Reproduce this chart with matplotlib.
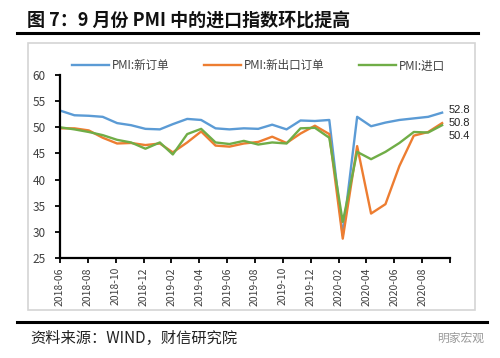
import matplotlib
matplotlib.use('Agg')
import matplotlib.pyplot as plt
import matplotlib.transforms as mtransforms
from matplotlib.lines import Line2D
from matplotlib.patches import Rectangle
import pandas as pd

plt.rcParams['font.family'] = ['Noto Sans CJK SC', 'DejaVu Sans']

# ---------------- data ----------------
months = pd.date_range('2018-06-30', periods=28, freq='ME')
new_orders = [53.2, 52.3, 52.2, 52.0, 50.8, 50.4, 49.7, 49.6, 50.6, 51.6, 51.4, 49.8, 49.6, 49.8,
              49.7, 50.5, 49.6, 51.3, 51.2, 51.4, 29.3, 52.0, 50.2, 50.9, 51.4, 51.7, 52.0, 52.8]
export_orders = [49.8, 49.8, 49.4, 48.0, 46.9, 47.0, 46.6, 46.9, 45.2, 47.1, 49.2, 46.5, 46.3, 46.9,
                 47.2, 48.2, 47.0, 48.8, 50.3, 48.7, 28.7, 46.4, 33.5, 35.3, 42.6, 48.4, 49.1, 50.8]
imports = [50.0, 49.6, 49.1, 48.5, 47.6, 47.1, 45.9, 47.1, 44.8, 48.7, 49.7, 47.1, 46.8, 47.4,
           46.7, 47.1, 46.9, 49.8, 49.9, 48.0, 31.9, 45.3, 43.9, 45.3, 47.0, 49.1, 49.0, 50.4]
series_names = ['PMI:新订单', 'PMI:新出口订单', 'PMI:进口']
series_values = [new_orders, export_orders, imports]
colors = ['#5B9BD5', '#ED7D31', '#70AD47']
y_ticks = [25, 30, 35, 40, 45, 50, 55, 60]

title = '图 7：9 月份 PMI 中的进口指数环比提高'
source = '资料来源：WIND，财信研究院'
watermark = '明家宏观'

# ---------------- figure ----------------
W, H = 500, 358
fig = plt.figure(figsize=(W / 100, H / 100), dpi=100)

def fx(px):
    return px / W

def fy(py):
    return 1 - py / H

# chart frame
fig.patches.append(Rectangle((fx(28), fy(310)), fx(475) - fx(28), fy(43) - fy(310),
                             transform=fig.transFigure, facecolor='white',
                             edgecolor='#d4d4d4', lw=1.2, zorder=-2))
# rules
fig.lines.append(Line2D([fx(17), fx(478)], [fy(33), fy(33)], transform=fig.transFigure,
                        color='black', lw=2.2, zorder=-1))
fig.lines.append(Line2D([fx(17), fx(487)], [fy(322), fy(322)], transform=fig.transFigure,
                        color='black', lw=2.2, zorder=-1))

fig.text(fx(27), fy(20), title, fontsize=13, fontweight='bold', ha='left', va='center',
         color='#111111')
fig.text(fx(30), fy(338), source, fontsize=11, ha='left', va='center', color='#222222',
         style='italic')
fig.text(fx(484), fy(338), watermark, fontsize=8.5, ha='right', va='center', color='#9a9a9a')

ax = fig.add_axes([fx(60), fy(258), fx(450) - fx(60), fy(75) - fy(258)])
ax.set_facecolor('none')

for name, vals, c in zip(series_names, series_values, colors):
    ax.plot(months, vals, color=c, lw=1.7, label=name, solid_joinstyle='round')

start = months[0]
end = start + pd.Timedelta(days=840)
ax.set_xlim(start, end)
ax.set_ylim(y_ticks[0], y_ticks[-1])
ax.set_yticks(y_ticks)

tick_dates = [start + pd.Timedelta(days=60 * k) for k in range(15)]
tick_labels = [d.strftime('%Y-%m') for d in tick_dates[:-1]] + ['']
ax.set_xticks(tick_dates)
ax.set_xticklabels(tick_labels, rotation=90, fontsize=7.5, color='#404040')
offset = mtransforms.ScaledTranslation(0.08, 0, fig.dpi_scale_trans)
for lab in ax.get_xticklabels():
    lab.set_transform(lab.get_transform() + offset)

for lab in ax.get_yticklabels():
    lab.set_fontsize(8.5)
    lab.set_color('#404040')

for s in ['top', 'right']:
    ax.spines[s].set_visible(False)
for s in ['left', 'bottom']:
    ax.spines[s].set_color('black')
    ax.spines[s].set_linewidth(1.6)
ax.tick_params(axis='both', direction='out', length=3.5, width=1.3, color='black')
ax.tick_params(axis='x', pad=3)
ax.tick_params(axis='y', pad=7)

# end labels
end_offsets = [1.8, 0.3, -7.8]
for vals, dy in zip(series_values, end_offsets):
    ax.annotate(f'{vals[-1]:.1f}', xy=(months[-1], vals[-1]), xytext=(5, dy),
                textcoords='offset points', ha='left', va='center', fontsize=8,
                family=['Liberation Sans', 'DejaVu Sans'],
                color='#222222', annotation_clip=False)

fig.legend(loc='center left', bbox_to_anchor=(fx(72), fy(66)), ncol=3, frameon=False,
           fontsize=8.3, handlelength=3.2, handletextpad=0.25, columnspacing=3.0,
           borderpad=0, borderaxespad=0, labelcolor='#404040')

fig.savefig('out.png', dpi=100, facecolor='white')
